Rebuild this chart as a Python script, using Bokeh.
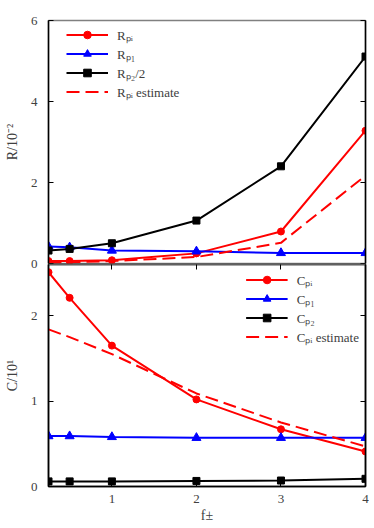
from bokeh.plotting import figure
from bokeh.layouts import column
from bokeh.models import Legend, LegendItem, LinearAxis, Range1d, FixedTicker
from bokeh.embed import file_html
from bokeh.resources import INLINE

# ---- data ----
f = [0.25, 0.5, 1, 2, 3, 4]
R_pi = [0.06, 0.06, 0.08, 0.25, 0.79, 3.28]
R_p1 = [0.42, 0.40, 0.32, 0.30, 0.26, 0.26]
R_p2_half = [0.32, 0.36, 0.50, 1.06, 2.40, 5.11]
R_pi_est = [0.02, 0.03, 0.06, 0.16, 0.51, 2.17]
C_pi = [2.51, 2.21, 1.65, 1.02, 0.67, 0.41]
C_p1 = [0.59, 0.59, 0.58, 0.57, 0.57, 0.57]
C_p2 = [0.06, 0.06, 0.06, 0.065, 0.07, 0.09]
C_pi_est = [1.84, 1.75, 1.55, 1.09, 0.75, 0.47]

x_ticks = [1, 2, 3, 4]
R_ticks = [0, 2, 4, 6]
C_ticks = [0, 1, 2]

FONT = "Liberation Serif"
TXT = "#404040"
FS = "13px"
RED, BLUE, BLACK = "#ff0000", "#0000ff", "#000000"
LW = 2


def style_axis(ax, ticks=None):
    ax.major_tick_in = 5
    ax.major_tick_out = 0
    ax.minor_tick_line_color = None
    ax.axis_line_color = BLACK
    ax.major_tick_line_color = BLACK
    ax.axis_line_width = 1.5
    ax.major_label_text_font = FONT
    ax.major_label_text_font_size = FS
    ax.major_label_text_color = TXT
    ax.axis_label_text_font = FONT
    ax.axis_label_text_font_size = "14px"
    ax.axis_label_text_font_style = "normal"
    ax.axis_label_text_color = TXT
    ax.major_label_standoff = 8
    if ticks is not None:
        ax.major_label_overrides = {t: "" for t in ticks}
        ax.major_label_standoff = 0


# ---- top panel ----
top = figure(width=369, height=271, x_range=Range1d(0.25, 4), y_range=Range1d(0, 6),
             output_backend="svg", toolbar_location=None, x_axis_location=None,
             min_border_left=48, min_border_right=4, min_border_top=20, min_border_bottom=8)
top.grid.visible = False
top.outline_line_color = "#808080"
top.outline_line_width = 1.5
top.yaxis.ticker = FixedTicker(ticks=R_ticks)
top.yaxis.axis_label = "R/10⁻²"
style_axis(top.yaxis[0])
top.yaxis.major_label_standoff = 11
top.yaxis.axis_label_standoff = 8
ra = LinearAxis(ticker=FixedTicker(ticks=R_ticks))
style_axis(ra, ticks=R_ticks)
top.add_layout(ra, "right")

l1 = top.line(f, R_pi, line_color=RED, line_width=LW)
m1 = top.scatter(f, R_pi, marker="circle", size=7, color=RED)
l2 = top.line(f, R_p1, line_color=BLUE, line_width=LW)
m2 = top.scatter(f, R_p1, marker="triangle", size=9, color=BLUE)
l3 = top.line(f, R_p2_half, line_color=BLACK, line_width=LW)
m3 = top.scatter(f, R_p2_half, marker="square", size=7, color=BLACK)
l4 = top.line(f, R_pi_est, line_color=RED, line_width=LW, line_dash="13 6")

leg1 = Legend(items=[
    LegendItem(label="Rₚᵢ", renderers=[l1, m1]),
    LegendItem(label="Rₚ₁", renderers=[l2, m2]),
    LegendItem(label="Rₚ₂/2", renderers=[l3, m3]),
    LegendItem(label="Rₚᵢ estimate", renderers=[l4]),
], location=(14, 158))

# ---- bottom panel ----
bot = figure(width=369, height=262, x_range=Range1d(0.25, 4), y_range=Range1d(0, 2.6),
             output_backend="svg", toolbar_location=None,
             min_border_left=48, min_border_right=4, min_border_top=1, min_border_bottom=0,
             margin=(-8, 0, 0, 0))
bot.border_fill_alpha = 0
bot.grid.visible = False
bot.outline_line_color = BLACK
bot.outline_line_width = 1.5
bot.xaxis.ticker = FixedTicker(ticks=x_ticks)
bot.yaxis.ticker = FixedTicker(ticks=C_ticks)
bot.xaxis.axis_label = "f±"
bot.yaxis.axis_label = "C/10¹"
style_axis(bot.xaxis[0])
style_axis(bot.yaxis[0])
bot.yaxis.major_label_standoff = 11
bot.yaxis.axis_label_standoff = 8
bot.xaxis.axis_label_standoff = 2
ta = LinearAxis(ticker=FixedTicker(ticks=x_ticks[:-1]))
style_axis(ta, ticks=x_ticks[:-1])
ta.axis_line_color = "#606060"
bot.add_layout(ta, "above")
ra2 = LinearAxis(ticker=FixedTicker(ticks=C_ticks[1:]))
style_axis(ra2, ticks=C_ticks[1:])
bot.add_layout(ra2, "right")

b1 = bot.line(f, C_pi, line_color=RED, line_width=LW)
n1 = bot.scatter(f, C_pi, marker="circle", size=7, color=RED)
b2 = bot.line(f, C_p1, line_color=BLUE, line_width=LW)
n2 = bot.scatter(f, C_p1, marker="triangle", size=9, color=BLUE)
b3 = bot.line(f, C_p2, line_color=BLACK, line_width=LW)
n3 = bot.scatter(f, C_p2, marker="square", size=7, color=BLACK)
b4 = bot.line(f, C_pi_est, line_color=RED, line_width=LW, line_dash="13 6")

leg2 = Legend(items=[
    LegendItem(label="Cₚᵢ", renderers=[b1, n1]),
    LegendItem(label="Cₚ₁", renderers=[b2, n2]),
    LegendItem(label="Cₚ₂", renderers=[b3, n3]),
    LegendItem(label="Cₚᵢ estimate", renderers=[b4]),
], location="top_right")

for lg in (leg1, leg2):
    lg.label_text_font = FONT
    lg.label_text_font_size = FS
    lg.label_text_color = TXT
    lg.background_fill_alpha = 0
    lg.border_line_alpha = 0
    lg.glyph_width = 42
    lg.glyph_height = 19
    lg.label_height = 19
    lg.spacing = 0
    lg.label_standoff = 9
    lg.padding = 4
    lg.margin = 0

leg2.margin = 2
leg2.padding = 4
top.add_layout(leg1, "center")
bot.add_layout(leg2, "center")

layout = column(top, bot, spacing=0)
open("out.html", "w").write(file_html(layout, INLINE))
